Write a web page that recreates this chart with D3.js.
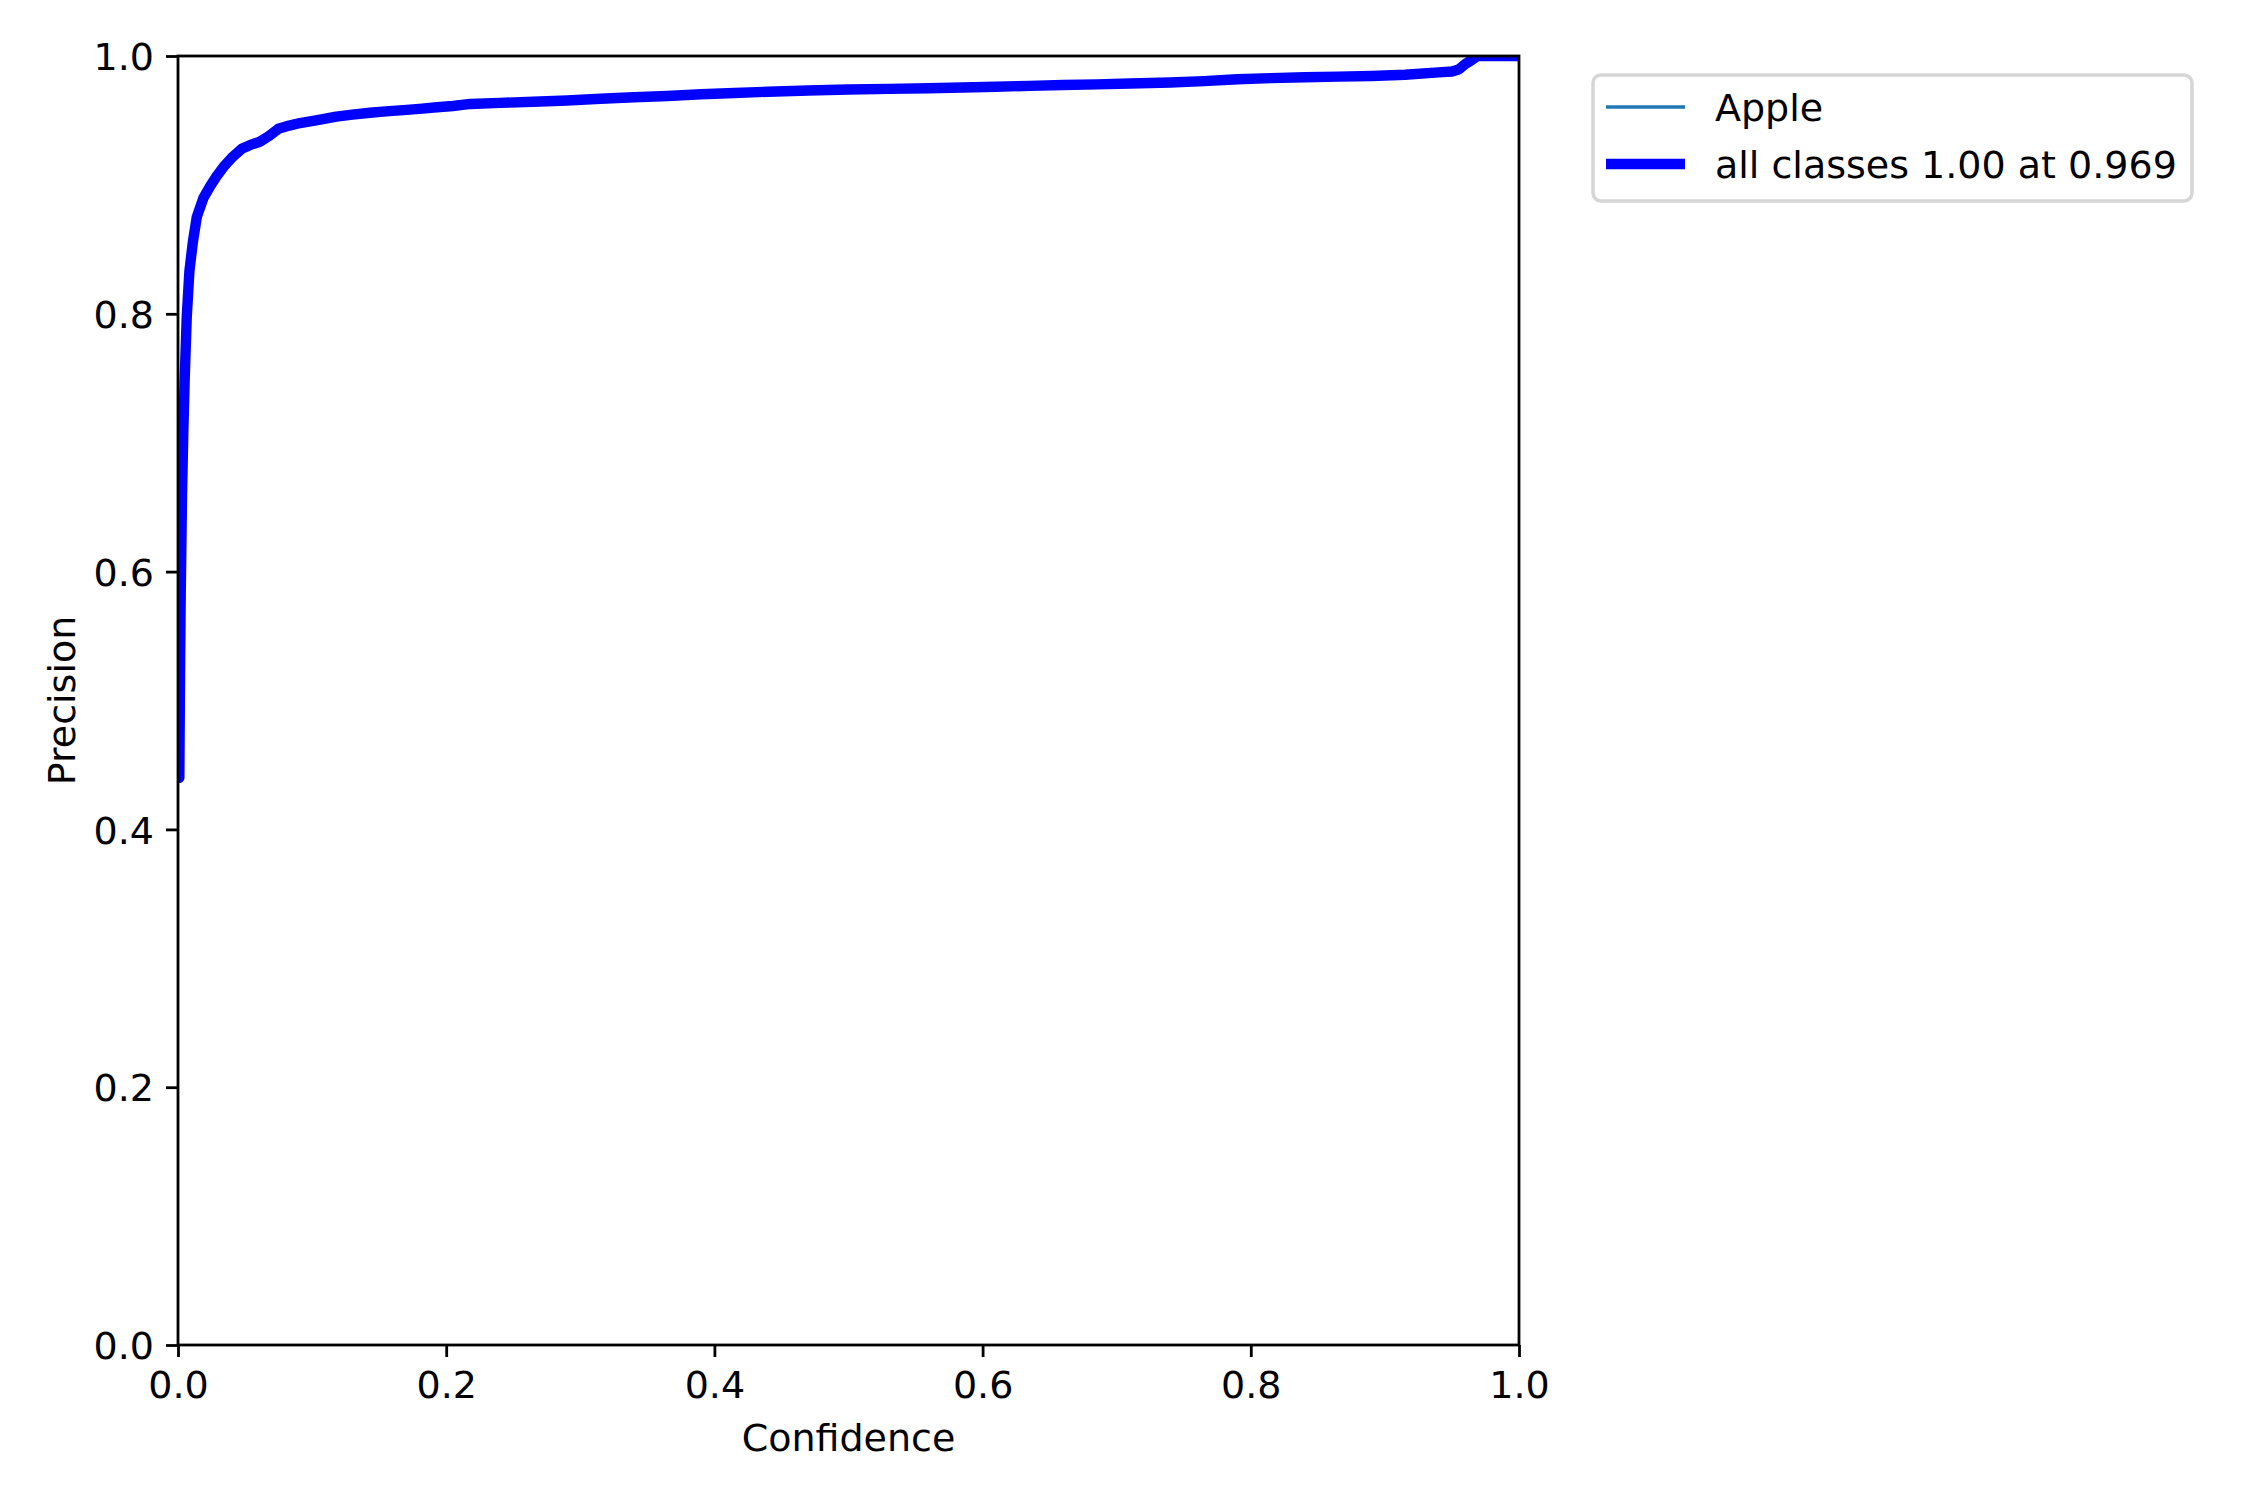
<!DOCTYPE html>
<html>
<head>
<meta charset="utf-8">
<script src="https://cdn.jsdelivr.net/npm/d3@7"></script>
<style>
  html, body { margin: 0; padding: 0; background: #ffffff; }
  svg { display: block; }
  text { font-family: "DejaVu Sans", sans-serif; fill: #000; }
</style>
</head>
<body>
<svg id="chart" width="2250" height="1500"></svg>
<script>
// ---- data ----
const confidence = [0, 0.001, 0.0015, 0.002, 0.003, 0.004, 0.005, 0.0065, 0.0085, 0.011, 0.014, 0.019, 0.024, 0.029, 0.034, 0.041, 0.0475, 0.054, 0.061, 0.068, 0.0748, 0.083, 0.091, 0.105, 0.118, 0.13, 0.143, 0.155, 0.168, 0.18, 0.193, 0.205, 0.218, 0.24, 0.265, 0.29, 0.315, 0.34, 0.365, 0.39, 0.415, 0.44, 0.47, 0.5, 0.53, 0.56, 0.585, 0.61, 0.635, 0.66, 0.685, 0.71, 0.74, 0.765, 0.79, 0.815, 0.84, 0.865, 0.89, 0.915, 0.94, 0.95, 0.955, 0.96, 0.965, 0.969, 1.0];
const precisionApple = [0.44, 0.44, 0.52, 0.58, 0.66, 0.71, 0.75, 0.797, 0.833, 0.855, 0.875, 0.89, 0.899, 0.907, 0.914, 0.922, 0.928, 0.931, 0.9335, 0.938, 0.9435, 0.946, 0.948, 0.9505, 0.953, 0.9545, 0.956, 0.957, 0.958, 0.959, 0.9602, 0.9612, 0.9628, 0.9636, 0.9645, 0.9655, 0.9668, 0.968, 0.969, 0.9703, 0.9713, 0.9723, 0.9732, 0.974, 0.9745, 0.975, 0.9756, 0.9762, 0.9768, 0.9775, 0.978, 0.9787, 0.9794, 0.9805, 0.982, 0.9828, 0.9835, 0.984, 0.9845, 0.9855, 0.9873, 0.988, 0.9895, 0.9938, 0.997, 1.0, 1.0];
const precisionAll = precisionApple.slice(); // single class: mean equals the class curve
const xTicks = [0, 0.2, 0.4, 0.6, 0.8, 1.0];
const yTicks = [0, 0.2, 0.4, 0.6, 0.8, 1.0];
const legendLabels = ["Apple", "all classes 1.00 at 0.969"];
const xLabel = "Confidence";
const yLabel = "Precision";

// ---- layout ----
const L = 178, R = 1519, T = 56, B = 1345;
const fs = 38;
const svg = d3.select("#chart");

const x = d3.scaleLinear().domain([0, 1]).range([L, R]);
const y = d3.scaleLinear().domain([0, 1]).range([B, T]);

svg.append("defs").append("clipPath").attr("id", "clip")
  .append("rect").attr("x", L).attr("y", T).attr("width", R - L).attr("height", B - T);

const line = d3.line().x((d, i) => x(confidence[i])).y(d => y(d));

const plot = svg.append("g").attr("clip-path", "url(#clip)");
plot.append("path").datum(precisionApple)
  .attr("d", line).attr("fill", "none")
  .attr("stroke", "#1f77b4").attr("stroke-width", 3.5)
  .attr("stroke-linejoin", "round");
plot.append("path").datum(precisionAll)
  .attr("d", line).attr("fill", "none")
  .attr("stroke", "#0000ff").attr("stroke-width", 10.4)
  .attr("stroke-linejoin", "round").attr("stroke-linecap", "square");

// axes
const fmt = d3.format(".1f");
const xAxis = svg.append("g").attr("transform", `translate(0,${B})`)
  .call(d3.axisBottom(x).tickValues(xTicks).tickFormat(fmt).tickSize(12).tickPadding(12));
const yAxis = svg.append("g").attr("transform", `translate(${L},0)`)
  .call(d3.axisLeft(y).tickValues(yTicks).tickFormat(fmt).tickSize(12).tickPadding(12));
[xAxis, yAxis].forEach(a => {
  a.select(".domain").remove();
  a.selectAll(".tick line").attr("stroke", "#000").attr("stroke-width", 2.8);
  a.selectAll(".tick text").attr("font-size", fs).attr("font-family", "DejaVu Sans").attr("fill", "#000");
});
xAxis.selectAll(".tick text").attr("dy", "0.76em");
yAxis.selectAll(".tick text").attr("dy", "0.36em");

// spines
svg.append("rect").attr("x", L).attr("y", T).attr("width", R - L).attr("height", B - T)
  .attr("fill", "none").attr("stroke", "#000").attr("stroke-width", 2.8);

// axis labels
svg.append("text").attr("x", (L + R) / 2).attr("y", 1451)
  .attr("text-anchor", "middle").attr("font-size", fs).text(xLabel);
svg.append("text").attr("transform", `translate(75,${(T + B) / 2}) rotate(-90)`)
  .attr("text-anchor", "middle").attr("font-size", fs).text(yLabel);

// legend
const lg = svg.append("g");
lg.append("rect").attr("x", 1593).attr("y", 75).attr("width", 599).attr("height", 126)
  .attr("rx", 8).attr("ry", 8)
  .attr("fill", "#ffffff").attr("fill-opacity", 0.8)
  .attr("stroke", "#d6d6d6").attr("stroke-width", 3.5);
const legendStyles = [
  { color: "#1f77b4", width: 3.5, y: 107 },
  { color: "#0000ff", width: 10.4, y: 164 }
];
legendLabels.forEach((lab, i) => {
  const s = legendStyles[i];
  lg.append("line").attr("x1", 1606).attr("x2", 1685).attr("y1", s.y).attr("y2", s.y)
    .attr("stroke", s.color).attr("stroke-width", s.width);
  lg.append("text").attr("x", 1715).attr("y", s.y + 14).attr("font-size", fs).text(lab);
});
</script>
</body>
</html>
